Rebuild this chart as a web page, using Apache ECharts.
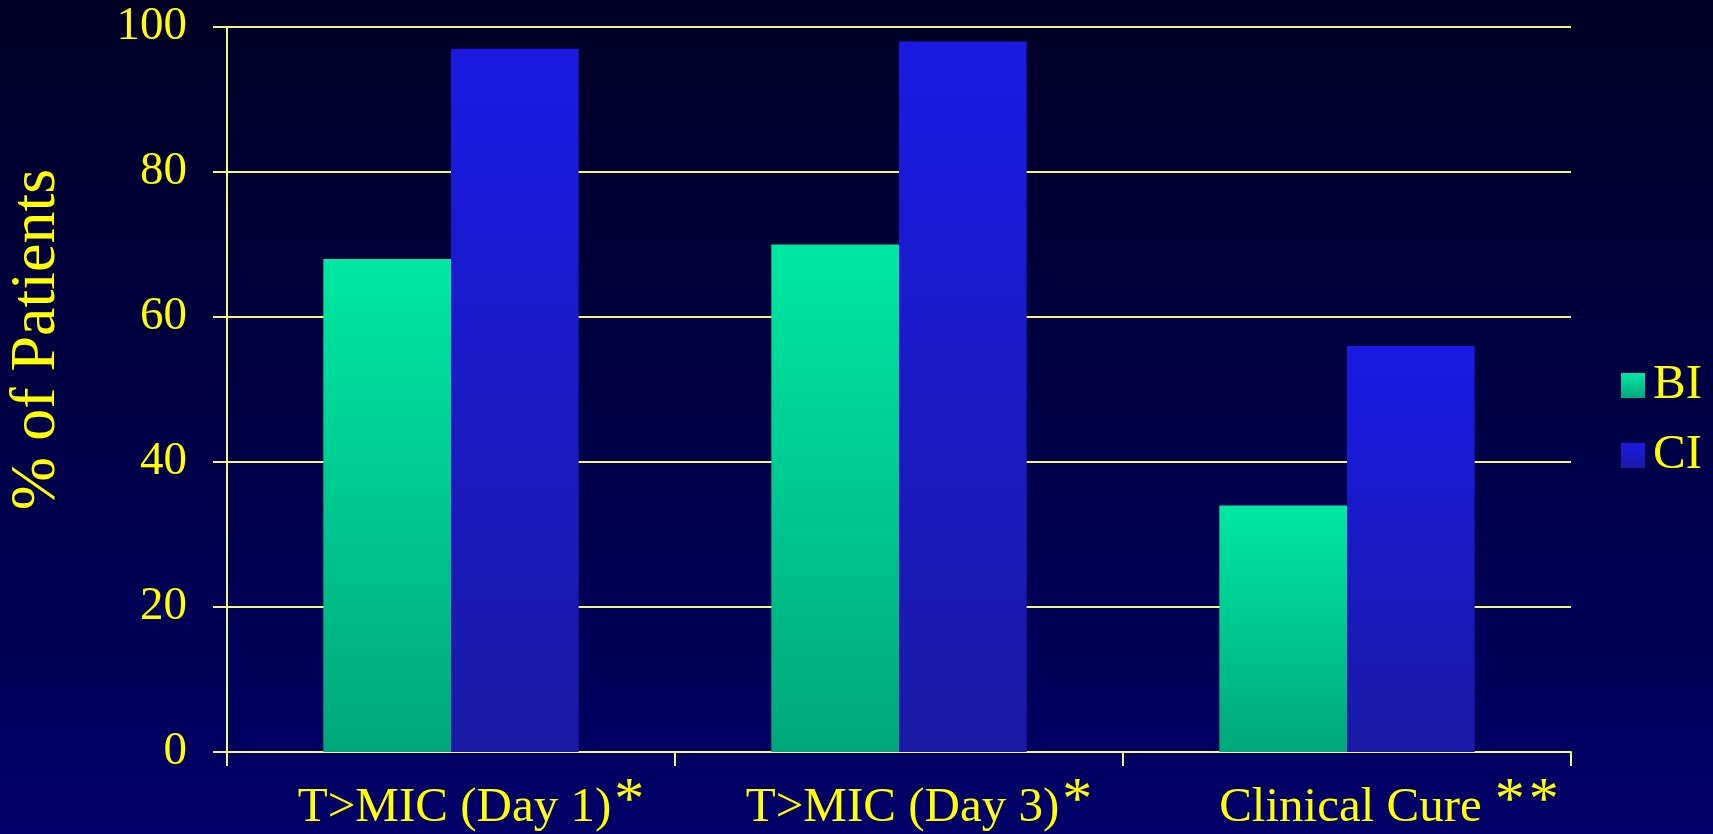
<!DOCTYPE html>
<html>
<head>
<meta charset="utf-8">
<script src="https://cdn.jsdelivr.net/npm/echarts@6/dist/echarts.min.js"></script>
<style>
html, body { margin: 0; padding: 0; }
#chart { width: 1713px; height: 834px; }
</style>
</head>
<body>
<div id="chart"></div>
<script>
const categories = ['T>MIC (Day 1)', 'T>MIC (Day 3)', 'Clinical Cure'];
const marks = ['*', '*', '**'];
const biValues = [68, 70, 34];
const ciValues = [97, 98, 56];
const yTicks = [0, 20, 40, 60, 80, 100];

const yellow = '#FFFF00';
const lineColor = '#F4F480';

function grad(top, bottom) {
    return new echarts.graphic.LinearGradient(0, 0, 0, 1, [
        {offset: 0, color: top},
        {offset: 1, color: bottom}
    ]);
}

// label: text, a gap, then the asterisks (double asterisk sits further out)
function catLabel(v) {
    const p = v.split('|');
    const wide = p[1].length > 1;
    const stars = p[1].split('').map(() => '{s|*}').join('{k|}');
    return (wide ? '{l2|}' : '{l1|}') + '{a|' + p[0] + '}' + (wide ? '{g2|}' : '{g1|}') + stars;
}

const myChart = echarts.init(document.getElementById('chart'));
const option = {
    animation: false,
    backgroundColor: grad('#000024', '#000068'),
    textStyle: {fontFamily: 'Liberation Serif'},
    grid: {left: 227, right: 142, top: 27, bottom: 82, outerBoundsMode: 'none', containLabel: false},
    legend: {
        orient: 'vertical',
        left: 1616,
        top: 356,
        itemWidth: 24,
        itemHeight: 25,
        itemGap: 21,
        icon: 'rect',
        textStyle: {color: yellow, fontSize: 49, fontFamily: 'Liberation Serif', padding: [0, 0, 0, 3]},
        data: ['BI', 'CI']
    },
    xAxis: {
        type: 'category',
        data: categories.map((c, i) => c + '|' + marks[i]),
        axisLine: {lineStyle: {color: lineColor, width: 2}},
        axisTick: {show: true, length: 14, lineStyle: {color: lineColor, width: 2}},
        axisLabel: {
            margin: 20,
            formatter: catLabel,
            rich: {
                a: {color: yellow, fontSize: 49, fontFamily: 'Liberation Serif'},
                l1: {width: 40},
                l2: {width: 84},
                g1: {width: 3},
                g2: {width: 13},
                k: {width: 4},
                s: {color: yellow, fontSize: 60, fontFamily: 'Liberation Serif', padding: [0, 0, 12, 0]}
            }
        }
    },
    yAxis: {
        type: 'value',
        min: yTicks[0],
        max: yTicks[yTicks.length - 1],
        interval: 20,
        name: '% of Patients',
        nameLocation: 'middle',
        nameGap: 158,
        nameTextStyle: {color: yellow, fontSize: 64, fontFamily: 'Liberation Serif', padding: [0, 0, 0, 100]},
        axisLine: {show: true, lineStyle: {color: lineColor, width: 2}},
        axisTick: {show: true, length: 14, lineStyle: {color: lineColor, width: 2}},
        axisLabel: {color: yellow, fontSize: 47, margin: 40, fontFamily: 'Liberation Serif'},
        splitLine: {lineStyle: {color: lineColor, width: 2}}
    },
    series: [
        {
            name: 'BI',
            type: 'bar',
            data: biValues,
            barGap: '0%',
            barCategoryGap: '43%',
            itemStyle: {color: grad('#00E8A2', '#00A87A')}
        },
        {
            name: 'CI',
            type: 'bar',
            data: ciValues,
            itemStyle: {color: grad('#1A1AE4', '#1A1AA6')}
        }
    ]
};
myChart.setOption(option);
</script>
</body>
</html>
